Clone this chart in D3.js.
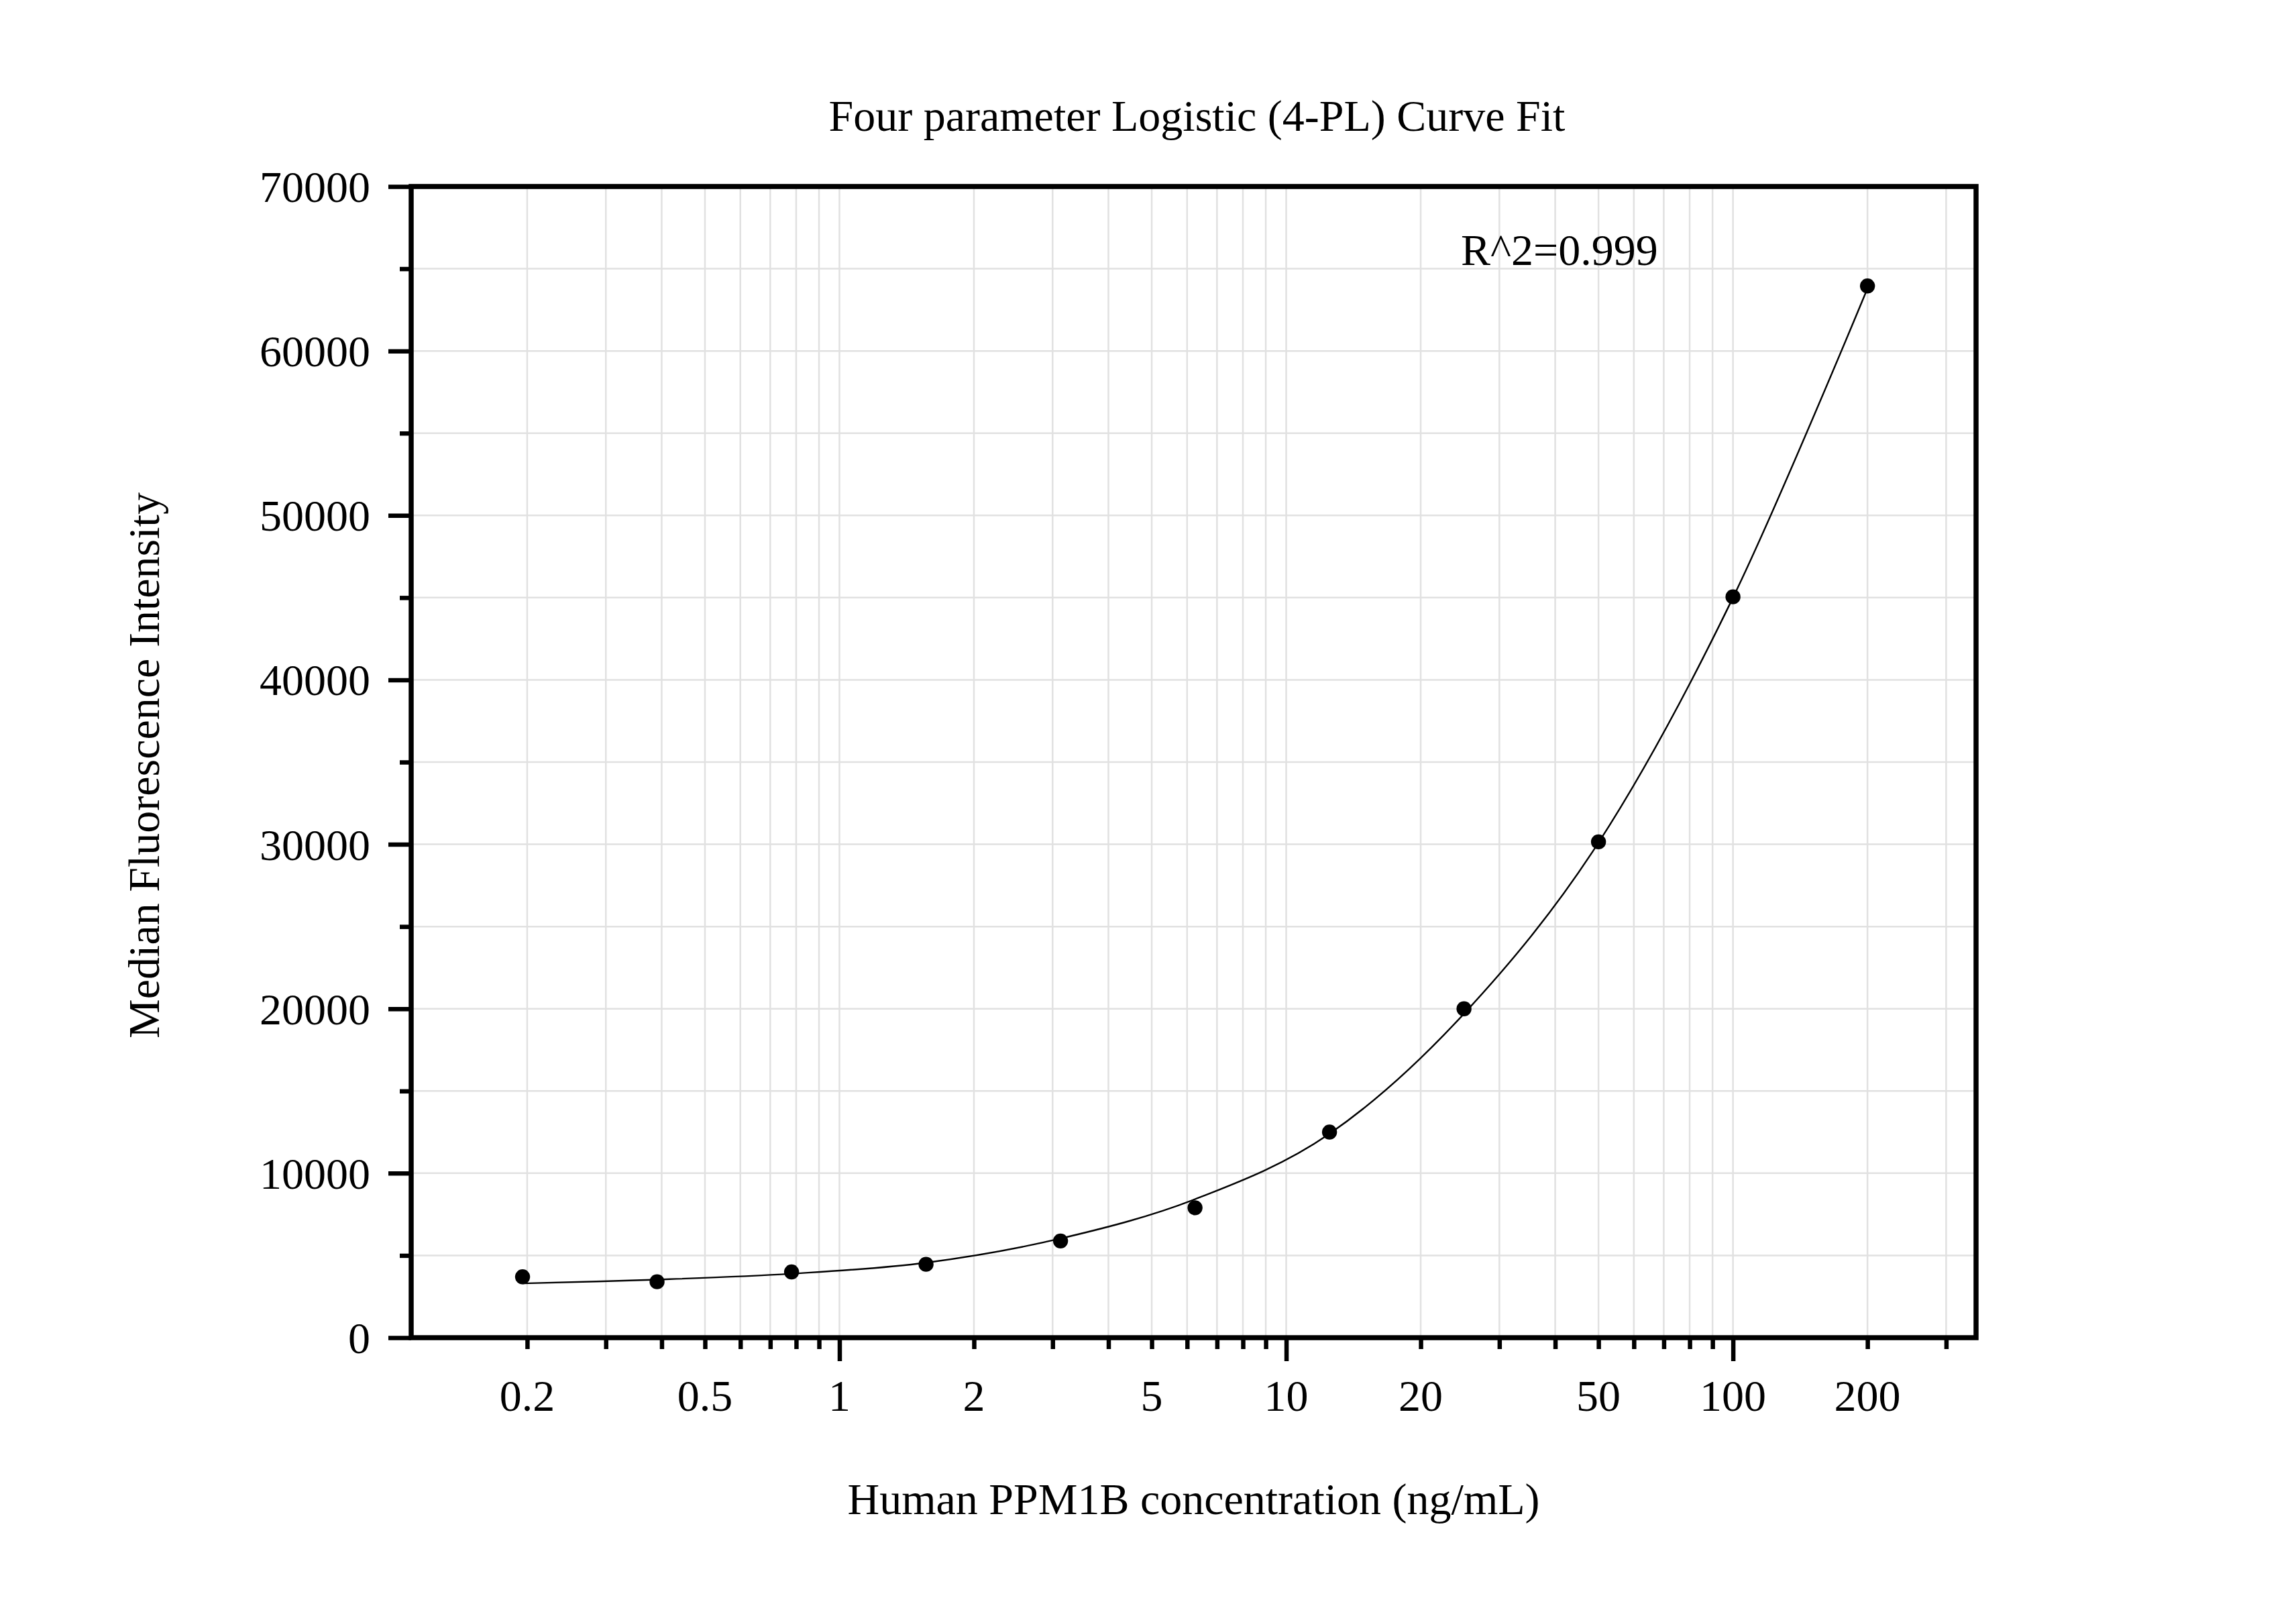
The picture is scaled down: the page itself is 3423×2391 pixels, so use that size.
<!DOCTYPE html>
<html>
<head>
<meta charset="utf-8">
<script src="https://cdn.jsdelivr.net/npm/d3@7"></script>
<style>
  html, body { margin: 0; padding: 0; background: #fff; }
  svg text { font-family: "Liberation Serif", "Times New Roman", serif; fill: #000; }
</style>
</head>
<body>
<svg id="chart" width="3423" height="2391"></svg>
<script>
// ---- data ----
const concentrations = [0.1953, 0.3906, 0.7813, 1.5625, 3.125, 6.25, 12.5, 25, 50, 100, 200];
const mfiValues = [3700, 3400, 3995, 4460, 5880, 7900, 12500, 20000, 30150, 45050, 63950];

// fitted 4-PL curve at the standard concentrations
const fitX = [0.1953, 0.3906, 0.7813, 1.5625, 3.125, 6.25, 12.5, 25, 50, 100, 200];
const fitY = [3300, 3530, 3890, 4560, 6030, 8420, 12400, 19700, 30100, 45000, 63800];

const xTickLabels = [0.2, 0.5, 1, 2, 5, 10, 20, 50, 100, 200];
const xMajorTicks = [1, 10, 100];
const yMajorTicks = [0, 10000, 20000, 30000, 40000, 50000, 60000, 70000];
const yMinorTicks = [5000, 15000, 25000, 35000, 45000, 55000, 65000];
const yGridValues = [5000, 10000, 15000, 20000, 25000, 30000, 35000, 40000, 45000, 50000, 55000, 60000, 65000];

const titleText = "Four parameter Logistic (4-PL) Curve Fit";
const xTitle = "Human PPM1B concentration (ng/mL)";
const yTitle = "Median Fluorescence Intensity";
const r2Text = "R^2=0.999";

// ---- layout ----
const L = 613, R = 2946, T = 278, B = 1994;
const FS = 66;

const svg = d3.select("#chart");
const x = d3.scaleLog().domain([0.11, 350]).range([L, R]);
const y = d3.scaleLinear().domain([0, 70000]).range([B, T]);

// all log ticks inside the domain
const allLogTicks = x.ticks(30).filter(v => v >= 0.2 && v <= 300);
const xMinorTicks = allLogTicks.filter(v => !xMajorTicks.some(m => Math.abs(m - v) < 1e-9));

// gridlines
const grid = svg.append("g").attr("stroke", "#e1e1e1").attr("stroke-width", 2.5);
grid.selectAll("line.v").data(allLogTicks).join("line")
  .attr("x1", d => x(d)).attr("x2", d => x(d)).attr("y1", T).attr("y2", B);
grid.selectAll("line.h").data(yGridValues).join("line")
  .attr("x1", L).attr("x2", R).attr("y1", d => y(d)).attr("y2", d => y(d));

// fitted curve
const line = d3.line().x((d, i) => x(fitX[i])).y(d => y(d)).curve(d3.curveCatmullRom.alpha(0));
svg.append("path").datum(fitY).attr("d", line)
  .attr("fill", "none").attr("stroke", "#000").attr("stroke-width", 2.4);

// points
svg.append("g").selectAll("circle").data(mfiValues).join("circle")
  .attr("cx", (d, i) => x(concentrations[i])).attr("cy", d => y(d)).attr("r", 11.2).attr("fill", "#000");

// axes: left
const yAxisMajor = d3.axisLeft(y).tickValues(yMajorTicks).tickSize(34).tickFormat(d3.format("d")).tickPadding(27);
const gy = svg.append("g").attr("transform", `translate(${L},0)`).call(yAxisMajor);
gy.select(".domain").remove();
gy.selectAll(".tick line").attr("stroke", "#000").attr("stroke-width", 6.5);
gy.selectAll(".tick text").attr("font-size", FS).attr("font-family", "Liberation Serif").attr("dy", "0.34em");

const gyMinor = svg.append("g").attr("transform", `translate(${L},0)`)
  .call(d3.axisLeft(y).tickValues(yMinorTicks).tickSize(17).tickFormat(""));
gyMinor.select(".domain").remove();
gyMinor.selectAll(".tick line").attr("stroke", "#000").attr("stroke-width", 6.5);

// axes: bottom
const gxMajor = svg.append("g").attr("transform", `translate(0,${B})`)
  .call(d3.axisBottom(x).tickValues(xMajorTicks).tickSize(35).tickFormat(""));
gxMajor.select(".domain").remove();
gxMajor.selectAll(".tick line").attr("stroke", "#000").attr("stroke-width", 6.5);

const gxMinor = svg.append("g").attr("transform", `translate(0,${B})`)
  .call(d3.axisBottom(x).tickValues(xMinorTicks).tickSize(17).tickFormat(""));
gxMinor.select(".domain").remove();
gxMinor.selectAll(".tick line").attr("stroke", "#000").attr("stroke-width", 6.5);

svg.append("g").selectAll("text").data(xTickLabels).join("text")
  .attr("x", d => x(d)).attr("y", 2103).attr("text-anchor", "middle").attr("font-size", FS)
  .text(d => String(d));

// frame
svg.append("rect").attr("x", L).attr("y", T).attr("width", R - L).attr("height", B - T)
  .attr("fill", "none").attr("stroke", "#000").attr("stroke-width", 7.5);

// texts
svg.append("text").attr("x", (L + R) / 2 + 5).attr("y", 195).attr("text-anchor", "middle")
  .attr("font-size", FS).text(titleText);
svg.append("text").attr("x", 2178).attr("y", 395).attr("font-size", FS).text(r2Text);
svg.append("text").attr("x", (L + R) / 2).attr("y", 2257).attr("text-anchor", "middle")
  .attr("font-size", FS).text(xTitle);
svg.append("text").attr("transform", `translate(237,${(T + B) / 2 + 5}) rotate(-90)`)
  .attr("text-anchor", "middle").attr("font-size", FS).text(yTitle);
</script>
</body>
</html>
